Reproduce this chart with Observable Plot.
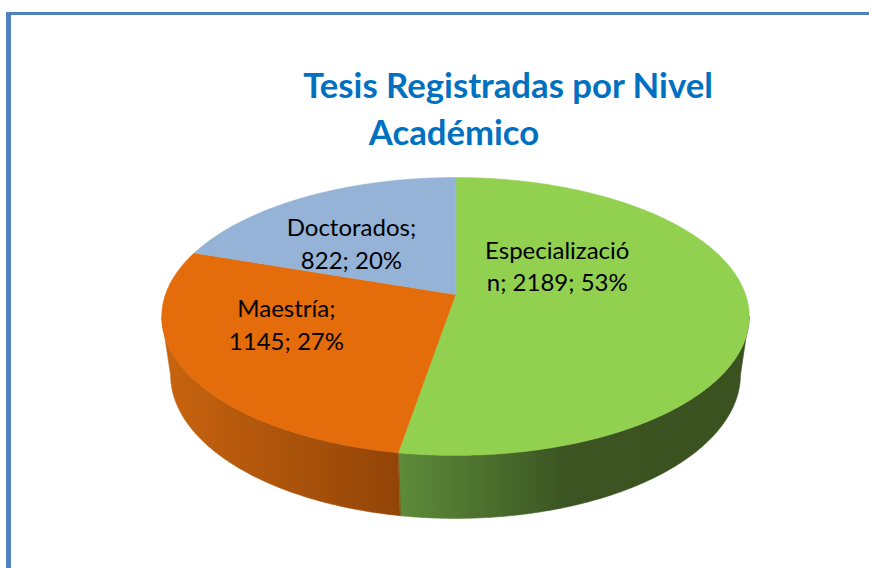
<!DOCTYPE html>
<html><head><meta charset="utf-8">
<script src="https://cdn.jsdelivr.net/npm/d3@7"></script>
<script src="https://cdn.jsdelivr.net/npm/@observablehq/plot@0.6"></script>
<style>
body{margin:0;background:#fff;}
#frame{position:absolute;left:6px;top:12px;width:863px;height:556px;border-left:5px solid #4f81bd;border-top:3px solid #4f81bd;box-sizing:border-box;background:#fff;overflow:hidden;}
#title{position:relative;height:142px;font-family:Lato,"Open Sans",sans-serif;font-weight:700;color:#0070c0;font-size:34.7px;line-height:35px;}
#title div{position:absolute;transform:translateX(-50%);white-space:nowrap;}
#chart svg{display:block;}
</style></head><body>
<div id="frame">
  <div id="title"><div id="t1" style="left:497px;top:52px">Tesis Registradas por Nivel</div><div id="t2" style="left:443px;top:99px">Académico</div></div>
  <div id="chart"></div>
</div>
<script>
// ---- data ----
const categories = ["Especialización", "Maestría", "Doctorados"];
const values = [2189, 1145, 822];
const percents = [53, 27, 20];

// ---- styles / layout ----
const topColors = ["#92d050", "#e46c0a", "#95b3d7"];
const sideFills = ["url(#gGreen)", "url(#gOrange)", "url(#gBlue)"];
const labelOffsets = [[-73, -37], [-12, -15], [-10, 9]]; // px nudges from computed anchors
const W = 858, H = 411;
const C = 0.158, D = 0.03, B = 0.467, G = 0.2063; // perspective parameters

function proj(theta, r, h) {
  const u = r * Math.sin(theta), v = -r * Math.cos(theta);
  const w = 1 - C * v + D * h;
  return {x: u / w, y: (B * v + G * h) / w};
}

const rows = categories.map((c, i) => ({name: c, value: values[i], pct: percents[i], i}));
const arcs = d3.pie().sort(null).value(d => d.value)(rows);

const step = Math.PI / 360;
function arcPts(a0, a1, h) {
  const n = Math.max(2, Math.ceil(Math.abs(a1 - a0) / step));
  return d3.range(n + 1).map(k => proj(a0 + (a1 - a0) * k / n, 1, h));
}

const topPts = [], sidePts = [];
const s0 = Math.acos(-C), s1 = 2 * Math.PI - Math.acos(-C);
arcs.forEach((a, i) => {
  const pts = [proj(0, 0, 0), ...arcPts(a.startAngle, a.endAngle, 0)];
  pts.forEach(p => topPts.push({...p, id: i, fill: topColors[i]}));
  const lo = Math.max(a.startAngle, s0), hi = Math.min(a.endAngle, s1);
  if (hi > lo) {
    const sp = [...arcPts(lo, hi, 0), ...arcPts(hi, lo, 1)];
    sp.forEach(p => sidePts.push({...p, id: i, fill: sideFills[i]}));
  }
});

function wrap(text, maxChars) {
  const lines = []; let cur = "";
  for (let word of text.split(" ")) {
    while (word.length > maxChars) {
      if (cur) { lines.push(cur); cur = ""; }
      lines.push(word.slice(0, maxChars)); word = word.slice(maxChars);
    }
    const t = cur ? cur + " " + word : word;
    if (t.length > maxChars && cur) { lines.push(cur); cur = word; } else cur = t;
  }
  if (cur) lines.push(cur);
  return lines.join("\n");
}

const labels = arcs.map((a, i) => {
  const m = (a.startAngle + a.endAngle) / 2;
  const p = proj(m, 0.6, 0);
  return {...p, text: wrap(`${a.data.name}; ${a.data.value}; ${a.data.pct}%`, 14), i};
});

const cx = 444, cy = 137, R = 290;
const chart = Plot.plot({
  width: W, height: H,
  margin: 0,
  x: {domain: [-1, 1], range: [cx - R, cx + R], axis: null},
  y: {domain: [-1, 1], range: [cy - R, cy + R], axis: null},
  color: {type: "identity"},
  style: {background: "transparent", fontFamily: "Lato, 'Open Sans', sans-serif"},
  marks: [
    Plot.line(sidePts, {x: "x", y: "y", z: "id", fill: "fill", stroke: "fill", strokeWidth: 0.6, curve: "linear-closed"}),
    Plot.line(topPts, {x: "x", y: "y", z: "id", fill: "fill", stroke: "fill", strokeWidth: 0.6, curve: "linear-closed"}),
    ...labels.map(l => Plot.text([l], {
      x: "x", y: "y", text: "text", fill: "black", fontSize: 24, lineHeight: 1.35,
      textAnchor: "middle", lineAnchor: "middle", dx: labelOffsets[l.i][0], dy: labelOffsets[l.i][1]
    }))
  ]
});

const ns = "http://www.w3.org/2000/svg";
const defs = document.createElementNS(ns, "defs");
function grad(id, stops) {
  const g = document.createElementNS(ns, "linearGradient");
  g.setAttribute("id", id); g.setAttribute("x1", "0"); g.setAttribute("x2", "1"); g.setAttribute("y1", "0"); g.setAttribute("y2", "0");
  stops.forEach(([o, c]) => { const s = document.createElementNS(ns, "stop"); s.setAttribute("offset", o); s.setAttribute("stop-color", c); g.appendChild(s); });
  defs.appendChild(g);
}
grad("gGreen", [[0, "#5e8c3a"], [0.48, "#3b5422"], [1, "#3a5220"]]);
grad("gOrange", [[0, "#c8640f"], [1, "#924407"]]);
grad("gBlue", [[0, "#7f9bbd"], [1, "#5c7699"]]);
chart.insertBefore(defs, chart.firstChild);
document.getElementById("chart").appendChild(chart);
</script>
</body></html>
